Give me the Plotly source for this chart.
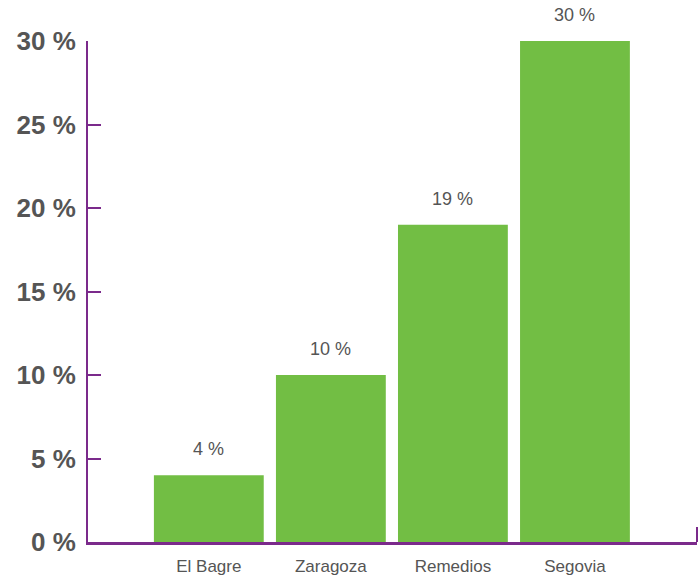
import plotly.graph_objects as go

categories = ["El Bagre", "Zaragoza", "Remedios", "Segovia"]
values = [4, 10, 19, 30]
tick_vals = [0, 5, 10, 15, 20, 25, 30]
tick_text = ["0 %", "5 %", "10 %", "15 %", "20 %", "25 %", "30 %"]
value_labels = [f"{v} %" for v in values]

purple = "#7B2A8B"
green = "#72BE44"
gray = "#555555"
fam = "Liberation Sans, Arial"

fig = go.Figure()
fig.add_trace(go.Bar(
    x=list(range(len(categories))), y=values,
    marker=dict(color=green, line=dict(width=0)),
    width=0.9,
    hoverinfo="skip",
))

for i, (v, t) in enumerate(zip(values, value_labels)):
    fig.add_annotation(x=i, y=v, text=t, showarrow=False, yanchor="bottom",
                       yshift=14, font=dict(size=18, color=gray, family=fam))

fig.update_layout(
    width=700, height=578,
    margin=dict(l=88, r=3, t=41, b=36),
    plot_bgcolor="white", paper_bgcolor="white",
    showlegend=False,
    font=dict(family=fam, color=gray),
    xaxis=dict(
        range=[-0.99, 4.0],
        tickmode="array",
        tickvals=list(range(len(categories))),
        ticktext=categories,
        ticks="", showgrid=False, zeroline=False,
        showline=True, linecolor=purple, linewidth=3,
        tickfont=dict(size=17, color=gray, family=fam),
        ticklabelstandoff=7,
        automargin=False,
        fixedrange=True,
    ),
    yaxis=dict(
        range=[0, 30],
        tickmode="array", tickvals=tick_vals,
        ticktext=[f"<b>{t}</b>" for t in tick_text],
        ticks="inside", ticklen=13, tickwidth=2, tickcolor=purple,
        showgrid=False, zeroline=False,
        showline=True, linecolor=purple, linewidth=2,
        tickfont=dict(size=26, color=gray, family=fam),
        ticklabelstandoff=5,
        automargin=False,
        fixedrange=True,
    ),
)

fig.add_shape(type="line", xref="paper", yref="paper",
              x0=1, x1=1, y0=0, y1=0.03,
              line=dict(color=purple, width=2))

fig.write_html("out.html")
